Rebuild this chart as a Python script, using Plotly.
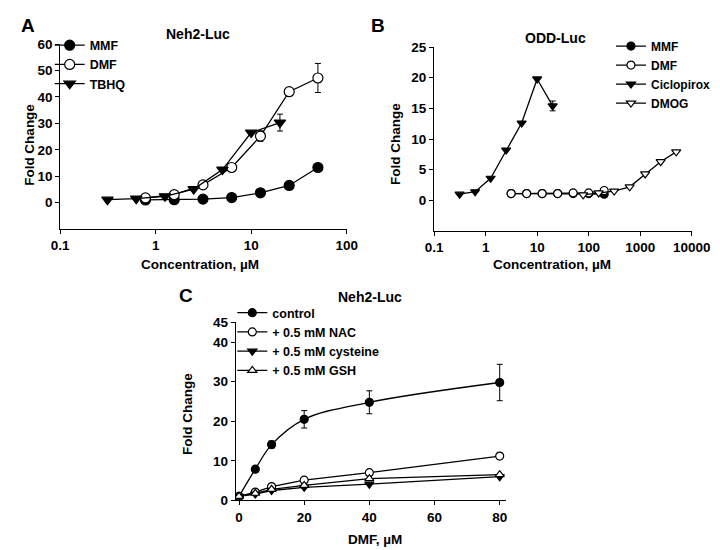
import plotly.graph_objects as go

# ---------------- data ----------------
# Panel A: Neh2-Luc
a_conc = [0.78125, 1.5625, 3.125, 6.25, 12.5, 25, 50]
a_mmf = [1.0, 1.1, 1.3, 1.9, 3.7, 6.5, 13.3]
a_dmf = [1.8, 3.0, 6.7, 13.3, 25.2, 42.0, 47.2]
a_dmf_err = [0, 0, 0, 0, 2.0, 0, 5.5]
a_tbhq_conc = [0.3125, 0.625, 1.25, 2.5, 5, 10, 20]
a_tbhq = [1.1, 1.5, 2.4, 5.1, 12.5, 26.5, 30.3]
a_tbhq_err = [0, 0, 0, 0, 0, 0, 3.2]

# Panel B: ODD-Luc
b_conc = [3.125, 6.25, 12.5, 25, 50, 100, 200]
b_mmf = [1.1, 1.1, 1.1, 1.1, 1.1, 1.1, 1.0]
b_dmf = [1.1, 1.1, 1.1, 1.1, 1.2, 1.2, 1.6]
b_cic_conc = [0.3125, 0.625, 1.25, 2.5, 5, 10, 20]
b_cic = [1.0, 1.4, 3.6, 8.2, 12.6, 19.8, 15.4]
b_cic_err = [0, 0, 0, 0, 0, 0, 0.8]
b_dmog_conc = [78.125, 156.25, 312.5, 625, 1250, 2500, 5000]
b_dmog = [0.9, 1.2, 1.5, 2.2, 4.3, 6.3, 7.9]

# Panel C: Neh2-Luc, DMF dose with thiols
c_dmf = [0, 5, 10, 20, 40, 80]
c_control = [1.0, 7.9, 14.1, 20.5, 24.8, 29.8]
c_control_err = [0.2, 0.5, 0.9, 2.2, 2.9, 4.6]
c_nac = [1.0, 2.1, 3.5, 5.1, 7.0, 11.2]
c_nac_err = [0, 0, 0, 0, 0, 0.7]
c_cys = [1.0, 1.6, 2.5, 3.3, 4.1, 6.0]
c_gsh = [1.0, 1.8, 2.8, 3.8, 5.5, 6.5]

W, H = 720, 550
FONT = "Arial, Liberation Sans, sans-serif"


def px(x):
    return x / W


def py(y):
    return 1 - y / H


fig = go.Figure()
LW = 1.3


def add(x, y, name, symbol, filled, xa, ya, legend, err=None, size=9, shape="linear"):
    fig.add_trace(go.Scatter(
        x=x, y=y, name=name, mode="lines+markers",
        xaxis=xa, yaxis=ya, legend=legend,
        line=dict(color="black", width=LW, shape=shape),
        marker=dict(symbol=symbol, size=size,
                    color="black" if filled else "white",
                    line=dict(color="black", width=1.2)),
        error_y=None if err is None else dict(type="data", array=err, color="black",
                                              thickness=1, width=3, visible=True),
    ))


# Panel A
add(a_conc, a_mmf, "MMF", "circle", True, "x", "y", "legend", size=10)
add(a_conc, a_dmf, "DMF", "circle", False, "x", "y", "legend", err=a_dmf_err, size=10)
add(a_tbhq_conc, a_tbhq, "TBHQ", "triangle-down", True, "x", "y", "legend", err=a_tbhq_err, size=10)

# Panel B
add(b_conc, b_mmf, "MMF", "circle", True, "x2", "y2", "legend2", size=8)
add(b_conc, b_dmf, "DMF", "circle", False, "x2", "y2", "legend2", size=8)
add(b_cic_conc, b_cic, "Ciclopirox", "triangle-down", True, "x2", "y2", "legend2", err=b_cic_err, size=8)
add(b_dmog_conc, b_dmog, "DMOG", "triangle-down", False, "x2", "y2", "legend2", size=8)

# Panel C
add(c_dmf, c_control, "control", "circle", True, "x3", "y3", "legend3", err=c_control_err, size=8, shape="spline")
add(c_dmf, c_nac, "+ 0.5 mM NAC", "circle", False, "x3", "y3", "legend3", err=c_nac_err, size=8)
add(c_dmf, c_cys, "+ 0.5 mM cysteine", "triangle-down", True, "x3", "y3", "legend3", size=8)
add(c_dmf, c_gsh, "+ 0.5 mM GSH", "triangle-up", False, "x3", "y3", "legend3", size=8)

axis_common = dict(showline=True, linecolor="black", linewidth=1.2, ticks="outside",
                   ticklen=4, tickcolor="black", tickwidth=1.2, showgrid=False, zeroline=False,
                   tickfont=dict(family=FONT, size=13.5, color="black", weight="bold"))

fig.update_layout(
    width=W, height=H,
    margin=dict(l=0, r=0, t=0, b=0),
    plot_bgcolor="white", paper_bgcolor="white",
    font=dict(family=FONT, color="black", weight="bold"),
    xaxis=dict(axis_common, type="log", range=[-1, 2], domain=[px(45), px(343)],
               tickvals=[0.1, 1, 10, 100], ticktext=["0.1", "1", "10", "100"], anchor="y"),
    yaxis=dict(axis_common, range=[-10, 60], domain=[py(220), py(30)],
               tickvals=[0, 10, 20, 30, 40, 50, 60], anchor="x"),
    xaxis2=dict(axis_common, type="log", range=[-1, 4], domain=[px(434), px(702)],
                tickvals=[0.1, 1, 10, 100, 1000, 10000],
                ticktext=["0.1", "1", "10", "100", "1000", "10000"], anchor="y2"),
    yaxis2=dict(axis_common, range=[-5, 25], domain=[py(222), py(33)],
                tickvals=[0, 5, 10, 15, 20, 25], anchor="x2"),
    xaxis3=dict(axis_common, range=[-1, 82], domain=[px(227.6), px(509)],
                tickvals=[0, 20, 40, 60, 80], anchor="y3"),
    yaxis3=dict(axis_common, range=[0, 45], domain=[py(499), py(316)],
                tickvals=[0, 10, 20, 30, 40, 45], anchor="x3"),
    legend=dict(x=px(34), y=py(16), xanchor="left", yanchor="top",
                font=dict(family=FONT, size=12.5, color="black", weight="bold"),
                bgcolor="rgba(0,0,0,0)", itemwidth=30, tracegroupgap=0),
    legend2=dict(x=px(618), y=py(17), xanchor="left", yanchor="top",
                 font=dict(family=FONT, size=12, color="black", weight="bold"),
                 bgcolor="rgba(0,0,0,0)", itemwidth=30, tracegroupgap=0),
    legend3=dict(x=px(224), y=py(291), xanchor="left", yanchor="top",
                 font=dict(family=FONT, size=12.5, color="black", weight="bold"),
                 bgcolor="rgba(0,0,0,0)", itemwidth=30, tracegroupgap=0),
)

ann = [
    ("A", 2, 11, 19, "left"),
    ("B", 366, 11, 19, "left"),
    ("C", 166, 288, 19, "left"),
    ("Neh2-Luc", 188, 20, 14, "center"),
    ("ODD-Luc", 560, 24, 14, "center"),
    ("Neh2-Luc", 367, 290, 14, "center"),
    ("Concentration, µM", 190, 257, 13.5, "center"),
    ("Concentration, µM", 557, 256, 13.5, "center"),
    ("DMF, µM", 373, 539, 13.5, "center"),
]
for text, x, y, size, anchor in ann:
    fig.add_annotation(text=text, x=px(x), y=py(y), xref="paper", yref="paper",
                       xanchor=anchor, yanchor="middle", showarrow=False,
                       font=dict(family=FONT, size=size, color="black", weight="bold"))

for x, y in [(13, 133), (394, 133), (178, 410)]:
    fig.add_annotation(text="Fold Change", x=px(x), y=py(y), xref="paper", yref="paper",
                       xanchor="center", yanchor="middle", showarrow=False, textangle=-90,
                       font=dict(family=FONT, size=13.5, color="black", weight="bold"))

fig.write_html("out.html")
